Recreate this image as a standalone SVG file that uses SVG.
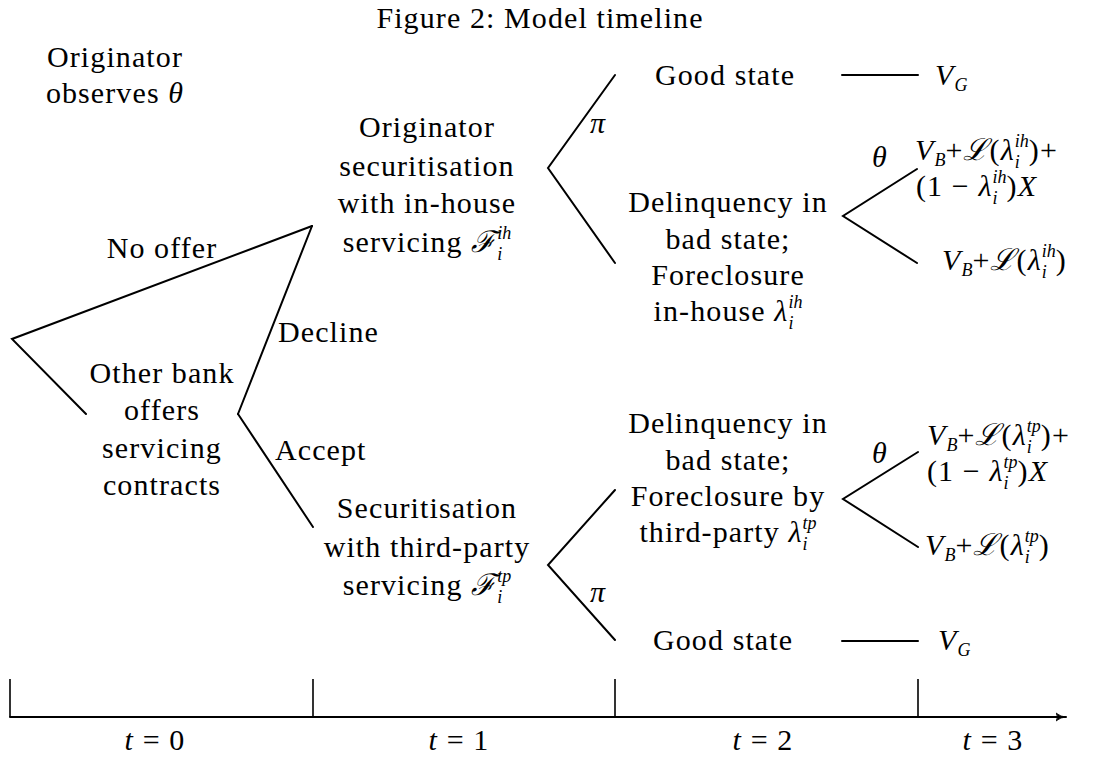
<svg xmlns="http://www.w3.org/2000/svg" width="1111" height="757" viewBox="0 0 1111 757">
<style>
.t{font-family:"Liberation Serif","DejaVu Serif",serif;font-size:30px;fill:#000;letter-spacing:1.1px}
.c{text-anchor:middle}
.i{font-style:italic}
.s{font-size:18px;letter-spacing:0}
.cal{font-family:"DejaVu Serif",serif;font-style:italic}
.ln{stroke:#000;stroke-width:2;fill:none;stroke-linecap:round;stroke-linejoin:miter}
.tk{stroke:#000;stroke-width:1.6}
</style>
<defs>
<marker id="arr" markerWidth="12" markerHeight="10" refX="10" refY="5" orient="auto" markerUnits="userSpaceOnUse">
<path d="M0,1 Q5,5 10,5 Q5,5 0,9 Q3,5 0,1 Z" fill="#000" stroke="#000" stroke-width="0.8"/>
</marker>
</defs>
<rect width="1111" height="757" fill="#fff"/>
<text id="title" class="t c" x="540" y="28">Figure 2: Model timeline</text>

<g id="connectors">
<polyline class="ln" points="312,226 12,339 86,414"/>
<line class="ln" x1="312" y1="226" x2="238" y2="414"/>
<line class="ln" x1="238" y1="414" x2="313" y2="527"/>
<polyline class="ln" points="615,75 548,168 615,263"/>
<polyline class="ln" points="917,169 843,216 917,263"/>
<line class="ln" x1="842" y1="75" x2="918" y2="75"/>
<polyline class="ln" points="615,490 548,565 615,640"/>
<polyline class="ln" points="918,452 843,499 918,547"/>
<line class="ln" x1="842" y1="641" x2="918" y2="641"/>
</g>

<g id="root">
<text class="t c" x="115" y="67">Originator</text>
<text class="t c" x="115" y="103">observes <tspan class="i">θ</tspan></text>
</g>
<g id="lbl-nooffer"><text class="t c" x="162" y="258">No offer</text></g>
<g id="other-bank">
<text class="t c" x="162" y="383">Other bank</text>
<text class="t c" x="162" y="420">offers</text>
<text class="t c" x="162" y="458">servicing</text>
<text class="t c" x="162" y="495">contracts</text>
</g>
<g id="lbl-decline"><text class="t" x="278" y="342">Decline</text></g>
<g id="lbl-accept"><text class="t" x="275" y="460">Accept</text></g>

<g id="node-ih">
<text class="t c" x="427" y="137">Originator</text>
<text class="t c" x="427" y="176">securitisation</text>
<text class="t c" x="427" y="213">with in-house</text>
<text class="t c" x="427" y="252">servicing <tspan class="cal">ℱ</tspan><tspan class="s i" dy="8">i</tspan><tspan class="s i" dx="-5" dy="-21">ih</tspan></text>
</g>

<g id="pi-top"><text class="t c i" x="598" y="133">π</text></g>
<g id="good-top">
<text class="t" x="655" y="85">Good state</text>
<text class="t" x="935" y="85"><tspan class="i">V</tspan><tspan class="s i" dy="6">G</tspan></text>
</g>
<g id="delinq-ih">
<text class="t c" x="728" y="212">Delinquency in</text>
<text class="t c" x="728" y="249">bad state;</text>
<text class="t c" x="728" y="285">Foreclosure</text>
<text class="t c" x="728" y="321">in-house <tspan class="i">λ</tspan><tspan class="s i" dy="8">i</tspan><tspan class="s i" dx="-5" dy="-21">ih</tspan></text>
</g>
<g id="theta-top"><text class="t c i" x="880" y="167">θ</text></g>
<g id="out-ih-1">
<text class="t" x="915" y="160"><tspan class="i">V</tspan><tspan class="s i" dy="6">B</tspan><tspan dy="-6">+</tspan><tspan class="cal">ℒ</tspan>(<tspan class="i">λ</tspan><tspan class="s i" dy="8">i</tspan><tspan class="s i" dx="-5" dy="-21">ih</tspan><tspan dy="13">)+</tspan></text>
<text class="t" x="916" y="196">(1 − <tspan class="i">λ</tspan><tspan class="s i" dy="8">i</tspan><tspan class="s i" dx="-5" dy="-21">ih</tspan><tspan dy="13">)</tspan><tspan class="i">X</tspan></text>
</g>
<g id="out-ih-2">
<text class="t" x="942" y="270"><tspan class="i">V</tspan><tspan class="s i" dy="6">B</tspan><tspan dy="-6">+</tspan><tspan class="cal">ℒ</tspan>(<tspan class="i">λ</tspan><tspan class="s i" dy="8">i</tspan><tspan class="s i" dx="-5" dy="-21">ih</tspan><tspan dy="13">)</tspan></text>
</g>

<g id="node-tp">
<text class="t c" x="427" y="518">Securitisation</text>
<text class="t c" x="427" y="557">with third-party</text>
<text class="t c" x="427" y="595">servicing <tspan class="cal">ℱ</tspan><tspan class="s i" dy="8">i</tspan><tspan class="s i" dx="-5" dy="-21">tp</tspan></text>
</g>
<g id="delinq-tp">
<text class="t c" x="728" y="433">Delinquency in</text>
<text class="t c" x="728" y="470">bad state;</text>
<text class="t c" x="728" y="506">Foreclosure by</text>
<text class="t c" x="728" y="542">third-party <tspan class="i">λ</tspan><tspan class="s i" dy="8">i</tspan><tspan class="s i" dx="-5" dy="-21">tp</tspan></text>
</g>
<g id="theta-bot"><text class="t c i" x="880" y="463">θ</text></g>
<g id="out-tp-1">
<text class="t" x="927" y="445"><tspan class="i">V</tspan><tspan class="s i" dy="6">B</tspan><tspan dy="-6">+</tspan><tspan class="cal">ℒ</tspan>(<tspan class="i">λ</tspan><tspan class="s i" dy="8">i</tspan><tspan class="s i" dx="-5" dy="-21">tp</tspan><tspan dy="13">)+</tspan></text>
<text class="t" x="927" y="481">(1 − <tspan class="i">λ</tspan><tspan class="s i" dy="8">i</tspan><tspan class="s i" dx="-5" dy="-21">tp</tspan><tspan dy="13">)</tspan><tspan class="i">X</tspan></text>
</g>
<g id="out-tp-2">
<text class="t" x="925" y="555"><tspan class="i">V</tspan><tspan class="s i" dy="6">B</tspan><tspan dy="-6">+</tspan><tspan class="cal">ℒ</tspan>(<tspan class="i">λ</tspan><tspan class="s i" dy="8">i</tspan><tspan class="s i" dx="-5" dy="-21">tp</tspan><tspan dy="13">)</tspan></text>
</g>
<g id="pi-bot"><text class="t c i" x="598" y="602">π</text></g>
<g id="good-bot">
<text class="t" x="653" y="650">Good state</text>
<text class="t" x="938" y="650"><tspan class="i">V</tspan><tspan class="s i" dy="6">G</tspan></text>
</g>

<g id="timeline">
<line class="ln" x1="10" y1="717" x2="1066" y2="717" marker-end="url(#arr)"/>
<line class="tk" x1="10" y1="679" x2="10" y2="717"/>
<line class="tk" x1="313" y1="679" x2="313" y2="717"/>
<line class="tk" x1="615" y1="679" x2="615" y2="717"/>
<line class="tk" x1="918" y1="679" x2="918" y2="717"/>
<text class="t c" x="155" y="750"><tspan class="i">t</tspan> = 0</text>
<text class="t c" x="459" y="750"><tspan class="i">t</tspan> = 1</text>
<text class="t c" x="763" y="750"><tspan class="i">t</tspan> = 2</text>
<text class="t c" x="993" y="750"><tspan class="i">t</tspan> = 3</text>
</g>
</svg>
